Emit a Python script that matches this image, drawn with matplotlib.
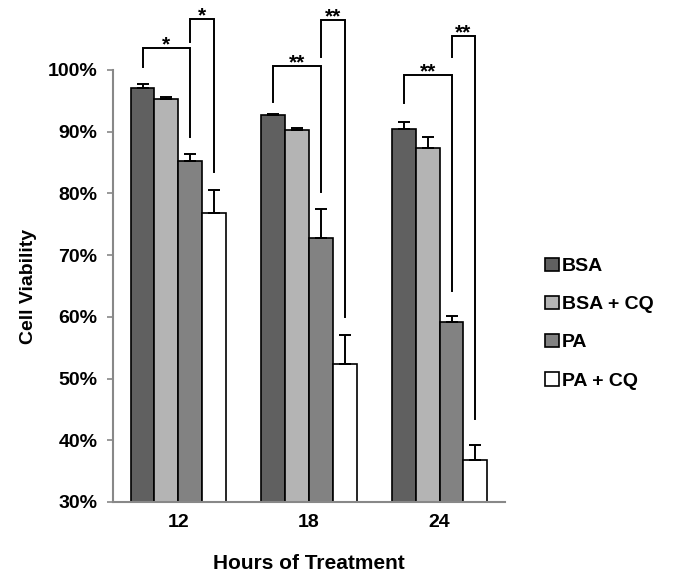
import matplotlib
matplotlib.use("Agg")
import matplotlib.pyplot as plt
import numpy as np
from matplotlib.patches import Patch

plt.rcParams['font.family'] = ['Liberation Sans', 'DejaVu Sans']
plt.rcParams['font.weight'] = 'bold'

categories = ['12', '18', '24']
series = ['BSA', 'BSA + CQ', 'PA', 'PA + CQ']
bsa = [97.0, 92.7, 90.4]
bsa_cq = [95.3, 90.2, 87.4]
pa = [85.2, 72.7, 59.1]
pa_cq = [76.8, 52.4, 36.8]
bsa_err = [0.8, 0.15, 1.1]
bsa_cq_err = [0.25, 0.4, 1.7]
pa_err = [1.1, 4.8, 1.1]
pa_cq_err = [3.7, 4.7, 2.4]
colors = ['#606060', '#b4b4b4', '#828282', '#ffffff']

# significance brackets: (group, left bar, right bar, top, left bottom, right bottom, label)
brackets = [
    (0, 0, 2, 103.6, 100.5, 89.1, '*'),
    (0, 2, 3, 108.3, 104.6, 83.4, '*'),
    (1, 0, 2, 100.65, 94.8, 80.2, '**'),
    (1, 2, 3, 108.1, 102.1, 60.0, '**'),
    (2, 0, 2, 99.2, 94.6, 64.2, '**'),
    (2, 2, 3, 105.5, 102.1, 43.4, '**'),
]

fig = plt.figure(figsize=(6.76, 5.78), dpi=100)
ax = fig.add_axes([0.167, 0.1315, 0.58, 0.7475])

values = [bsa, bsa_cq, pa, pa_cq]
errs = [bsa_err, bsa_cq_err, pa_err, pa_cq_err]
x = np.arange(len(categories))
w = 0.182
offsets = (np.arange(4) - 1.5) * w
for i in range(4):
    ax.bar(x + offsets[i], np.array(values[i]) - 30, width=w, bottom=30,
           color=colors[i], edgecolor='black', linewidth=1.2, zorder=2)
    ax.errorbar(x + offsets[i], values[i], yerr=[np.zeros(3), errs[i]],
                fmt='none', ecolor='black', elinewidth=1.4, capsize=4.3,
                capthick=1.4, zorder=3)

for g, l, r, top, lb, rb, lab in brackets:
    xl = x[g] + offsets[l]
    xr = x[g] + offsets[r]
    ax.plot([xl, xl, xr, xr], [lb, top, top, rb], color='black', lw=1.4,
            clip_on=False, zorder=4, solid_joinstyle='miter')
    ax.text((xl + xr) / 2, top - 1.1, lab, ha='center', va='bottom',
            fontsize=15, fontweight='bold', clip_on=False)

ax.set_xlim(-0.5, 2.5)
ax.set_ylim(30, 100)
ax.set_yticks(np.arange(30, 101, 10))
ax.set_yticklabels([f'{v}%' for v in range(30, 101, 10)])
ax.set_xticks(x)
ax.set_xticklabels(categories)
ax.tick_params(axis='y', direction='out', length=4, color='#888888', width=1.2,
               labelsize=14, pad=7)
ax.tick_params(axis='x', length=0, labelsize=14, pad=9)
for lab in ax.get_xticklabels() + ax.get_yticklabels():
    lab.set_fontweight('bold')
for s in ['top', 'right']:
    ax.spines[s].set_visible(False)
for s in ['left', 'bottom']:
    ax.spines[s].set_color('#888888')
    ax.spines[s].set_linewidth(1.5)

ax.set_ylabel('Cell Viability', fontsize=14, fontweight='bold', labelpad=8)
ax.set_xlabel('Hours of Treatment', fontsize=15, fontweight='bold', labelpad=16)

handles = [Patch(facecolor=c, edgecolor='black', linewidth=1.2) for c in colors]
fig.legend(handles, series, loc='center left', bbox_to_anchor=(0.781, 0.44),
           frameon=False, handlelength=0.7, handleheight=0.7,
           handletextpad=0.15, labelspacing=1.05, prop={'weight': 'bold', 'size': 14})

fig.savefig('out.png', dpi=100)
